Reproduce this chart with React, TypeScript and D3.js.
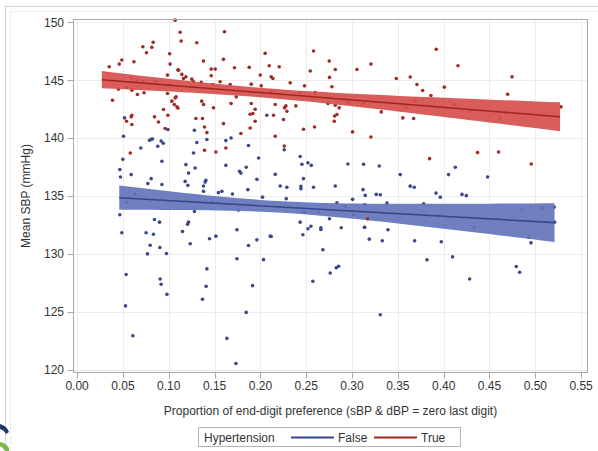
import React, { useEffect, useRef } from 'react';
import * as d3 from 'd3';

// tick values on both axes
const xTicks = [0, 0.05, 0.1, 0.15, 0.2, 0.25, 0.3, 0.35, 0.4, 0.45, 0.5, 0.55];
const yTicks = [120, 125, 130, 135, 140, 145, 150];
const groups = ['False', 'True'];

// Hypertension = False : [proportion, mean SBP]
const falsePoints: [number, number][] = [
  [0.0517, 141.75], [0.0506, 140.16], [0.0499, 138.17], [0.0466, 137.28], [0.0473, 136.64], [0.059, 136.85],
  [0.0695, 139.15], [0.079, 139.82], [0.0808, 139.9], [0.0822, 139.93], [0.088, 139.3], [0.0917, 139.76],
  [0.094, 139.56], [0.099, 140.74], [0.0925, 138.0], [0.0808, 136.5], [0.0772, 136.07], [0.0925, 136.0],
  [0.0633, 135.14], [0.054, 134.47], [0.0466, 133.38], [0.0488, 131.82], [0.0753, 131.82], [0.0833, 131.7],
  [0.0844, 132.97], [0.0899, 132.74], [0.0797, 130.74], [0.0768, 130.0], [0.0903, 130.55], [0.0975, 130.03],
  [0.0535, 128.21], [0.0906, 127.83], [0.0917, 127.37], [0.098, 126.5], [0.0528, 125.5], [0.0608, 122.92],
  [0.059, 145.2],
  [0.128, 140.68], [0.1416, 139.88], [0.1306, 139.62], [0.1623, 139.79], [0.168, 140.02], [0.187, 139.36],
  [0.207, 141.98], [0.127, 138.72], [0.1187, 137.71], [0.1216, 136.98], [0.1288, 137.42], [0.1179, 136.26],
  [0.1208, 135.92], [0.1405, 136.35], [0.1397, 136.2], [0.1379, 135.86], [0.1379, 135.4], [0.1623, 137.65],
  [0.1772, 137.13], [0.1787, 136.98], [0.1845, 137.48], [0.1962, 136.44], [0.198, 138.28], [0.1863, 135.55],
  [0.1542, 135.29], [0.158, 135.4], [0.1695, 135.17], [0.2023, 134.9], [0.147, 134.47], [0.176, 133.78],
  [0.128, 133.66], [0.1216, 132.74], [0.1205, 132.56], [0.115, 131.93], [0.1234, 130.87], [0.1445, 131.3],
  [0.1514, 131.53], [0.1744, 132.08], [0.187, 130.72], [0.1962, 131.21], [0.2107, 131.53], [0.1744, 129.57],
  [0.2034, 129.5], [0.1416, 128.7], [0.1408, 127.19], [0.1368, 126.07], [0.1914, 127.25], [0.1845, 124.94],
  [0.1634, 122.69], [0.1733, 120.52],
  [0.226, 139.0], [0.2434, 138.41], [0.2453, 137.74], [0.2519, 137.88], [0.2555, 137.65], [0.2162, 136.87],
  [0.2216, 135.86], [0.2289, 135.75], [0.2442, 135.83], [0.2442, 135.63], [0.247, 136.5], [0.258, 135.75],
  [0.2817, 135.86], [0.2955, 137.76], [0.3126, 137.74], [0.312, 135.55], [0.3144, 135.05], [0.3006, 134.71],
  [0.2282, 134.77], [0.2835, 134.42], [0.2926, 134.1], [0.2481, 133.6], [0.2634, 133.6], [0.2754, 133.03],
  [0.3016, 133.38], [0.2434, 132.74], [0.2551, 132.39], [0.2519, 132.17], [0.266, 132.25], [0.266, 132.1],
  [0.2464, 131.65], [0.2882, 132.25], [0.3136, 132.3], [0.2118, 131.5], [0.2682, 130.35], [0.2828, 128.79],
  [0.2853, 128.93], [0.2762, 128.35], [0.2573, 127.63],
  [0.3297, 137.59], [0.3526, 136.85], [0.4053, 136.85], [0.4127, 137.48], [0.3635, 135.85], [0.3679, 135.75],
  [0.3264, 135.14], [0.3308, 135.11], [0.3381, 134.39], [0.3781, 134.33], [0.3916, 135.25], [0.3963, 134.9],
  [0.42, 135.14], [0.4247, 135.03], [0.3137, 134.24], [0.3963, 133.32], [0.3137, 132.3], [0.3392, 132.08],
  [0.3188, 131.27], [0.333, 131.13], [0.3683, 131.13], [0.3974, 131.04], [0.3818, 129.48], [0.4097, 129.74],
  [0.4283, 127.83], [0.3308, 124.74],
  [0.4479, 136.64], [0.4334, 132.3], [0.4855, 133.81], [0.508, 133.95], [0.5207, 134.04], [0.521, 132.74],
  [0.4927, 131.44], [0.4953, 130.95], [0.4792, 128.9], [0.4829, 128.41],
];

// Hypertension = True
const truePoints: [number, number][] = [
  [0.035, 146.17], [0.0386, 143.28], [0.046, 146.4], [0.0488, 146.75], [0.062, 146.6], [0.0717, 147.9],
  [0.0757, 147.38], [0.0815, 147.85], [0.083, 148.28], [0.101, 147.3], [0.1015, 146.4], [0.0986, 145.45],
  [0.11, 145.9], [0.107, 150.2], [0.045, 144.24], [0.054, 144.38], [0.0597, 144.15], [0.0658, 143.78],
  [0.073, 143.92], [0.0597, 141.98], [0.059, 141.84], [0.054, 141.46], [0.0597, 141.18], [0.058, 138.72],
  [0.0844, 141.84], [0.0888, 141.4], [0.0943, 142.48], [0.099, 141.98], [0.096, 140.83], [0.1034, 143.2],
  [0.106, 142.9], [0.109, 142.7], [0.108, 143.57], [0.0986, 143.86], [0.086, 144.87], [0.065, 145.0],
  [0.072, 144.9], [0.1, 144.6],
  [0.1124, 149.15], [0.1135, 148.4], [0.1306, 148.25], [0.1608, 149.2], [0.1379, 146.66], [0.1106, 145.88],
  [0.1143, 145.51], [0.116, 145.16], [0.1187, 145.3], [0.1252, 145.1], [0.127, 144.87], [0.1354, 144.82],
  [0.1463, 145.97], [0.1507, 145.97], [0.1463, 145.39], [0.1597, 146.81], [0.1717, 146.08], [0.1878, 146.12],
  [0.2052, 147.33], [0.1998, 145.45], [0.2096, 146.26], [0.156, 144.87], [0.148, 144.64], [0.167, 144.64],
  [0.19, 144.67], [0.2009, 144.52], [0.1736, 143.57], [0.107, 143.48], [0.11, 142.6], [0.136, 143.2],
  [0.138, 142.91], [0.1488, 142.62], [0.168, 143.0], [0.19, 143.0], [0.1943, 142.5], [0.1918, 142.13],
  [0.1888, 142.07], [0.1296, 141.7], [0.1368, 141.7], [0.1943, 141.46], [0.1597, 141.26], [0.139, 140.97],
  [0.1416, 140.48], [0.1888, 140.88], [0.1787, 140.4], [0.139, 138.95], [0.1514, 138.8], [0.1623, 139.15],
  [0.2205, 146.17], [0.2118, 145.3], [0.2136, 145.16], [0.2325, 144.78], [0.2481, 144.52], [0.258, 147.53],
  [0.2544, 145.8], [0.2751, 146.66], [0.2817, 145.94], [0.2754, 145.25], [0.278, 144.44], [0.3053, 145.94],
  [0.2118, 144.06], [0.2598, 143.95], [0.243, 143.9], [0.2162, 142.91], [0.2263, 142.62], [0.2278, 142.79],
  [0.2289, 142.33], [0.2387, 142.79], [0.2143, 141.98], [0.2252, 141.61], [0.2737, 143.0], [0.2817, 142.85],
  [0.286, 142.62], [0.2835, 142.05], [0.2809, 141.92], [0.2806, 141.46], [0.2962, 143.08], [0.2471, 140.77],
  [0.2591, 140.97], [0.2162, 140.16], [0.3006, 140.54], [0.226, 139.32],
  [0.3206, 146.4], [0.3483, 145.16], [0.3635, 145.28], [0.3919, 147.68], [0.4156, 146.26], [0.3708, 144.64],
  [0.377, 144.12], [0.3861, 143.69], [0.4007, 144.41], [0.3126, 143.0], [0.3319, 142.27], [0.3555, 141.75],
  [0.3672, 141.7], [0.3588, 142.65], [0.369, 143.22], [0.4116, 142.91], [0.4283, 142.33], [0.3206, 140.1],
  [0.3846, 138.23], [0.317, 133.03],
  [0.4746, 145.3], [0.4698, 143.8], [0.461, 141.75], [0.4684, 142.22], [0.528, 142.7], [0.437, 138.75],
  [0.46, 138.8], [0.4956, 137.77],
];

// regression line: [xStart, xEnd, yStart, yEnd]
const falseFit = [0.046, 0.521, 134.85, 132.7];
const trueFit = [0.027, 0.527, 145.05, 141.85];
// confidence band: [x of narrowest point, min half-width, widening]
const falseBand = [0.22, 0.5, 5.3];
const trueBand = [0.2, 0.41, 3.6];

const colors = {
  False: { band: '#6474bb', line: '#33468e', dot: '#3a4889' },
  True: { band: '#d64f4c', line: '#a1261f', dot: '#9e2b24' },
};

const App = () => {
  const svgRef = useRef<SVGSVGElement>(null);

  useEffect(() => {
    const width = 598;
    const height = 451;
    const left = 73, right = 588, top = 19, bottom = 373;
    const font = '"Liberation Sans", Arial, sans-serif';

    const svg = d3.select(svgRef.current);
    svg.selectAll('*').remove();

    const x = d3.scaleLinear().domain([-0.0045, 0.5575]).range([left, right]);
    const y = d3.scaleLinear().domain([119.7, 150.3]).range([bottom, top]);

    svg.append('rect').attr('width', width).attr('height', height).attr('fill', '#fff');
    // outer frames of the graph image
    svg.append('rect').attr('x', 5.5).attr('y', 6.5).attr('width', 600).attr('height', 460)
      .attr('fill', 'none').attr('stroke', '#d2d2d2');
    svg.append('rect').attr('x', 10.5).attr('y', 11.5).attr('width', 600).attr('height', 460)
      .attr('fill', 'none').attr('stroke', '#eeeeee');

    // grid
    const grid = svg.append('g').attr('stroke', '#ececec').attr('stroke-width', 1);
    grid.selectAll('.gx').data(xTicks).enter().append('line')
      .attr('x1', d => Math.round(x(d)) + 0.5).attr('x2', d => Math.round(x(d)) + 0.5)
      .attr('y1', top).attr('y2', bottom);
    grid.selectAll('.gy').data(yTicks).enter().append('line')
      .attr('y1', d => Math.round(y(d)) + 0.5).attr('y2', d => Math.round(y(d)) + 0.5)
      .attr('x1', left).attr('x2', right);

    const plot = svg.append('g');

    const drawGroup = (pts: [number, number][], fit: number[], band: number[], c: { band: string; line: string; dot: string }) => {
      const lineY = (v: number) => fit[2] + ((fit[3] - fit[2]) * (v - fit[0])) / (fit[1] - fit[0]);
      const half = (v: number) => Math.sqrt(band[1] * band[1] + band[2] * band[2] * (v - band[0]) * (v - band[0]));
      const xs = d3.range(0, 41).map(i => fit[0] + ((fit[1] - fit[0]) * i) / 40);

      plot.append('g').selectAll('circle').data(pts).enter().append('circle')
        .attr('cx', d => x(d[0])).attr('cy', d => y(d[1])).attr('r', 1.8).attr('fill', c.dot);

      const area = d3.area<number>()
        .x(d => x(d))
        .y0(d => y(lineY(d) - half(d)))
        .y1(d => y(lineY(d) + half(d)));
      plot.append('path').datum(xs).attr('d', area).attr('fill', c.band).attr('fill-opacity', 0.92);

      const line = d3.line<number>().x(d => x(d)).y(d => y(lineY(d)));
      plot.append('path').datum([fit[0], fit[1]]).attr('d', line)
        .attr('fill', 'none').attr('stroke', c.line).attr('stroke-width', 1.6);
    };

    drawGroup(falsePoints, falseFit, falseBand, colors.False);
    drawGroup(truePoints, trueFit, trueBand, colors.True);

    // frame
    svg.append('rect').attr('x', left + 0.5).attr('y', top + 0.5)
      .attr('width', right - left - 1).attr('height', bottom - top - 1)
      .attr('fill', 'none').attr('stroke', '#a8a8a8');

    // y axis
    const ya = svg.append('g');
    ya.selectAll('line').data(yTicks).enter().append('line')
      .attr('x1', left - 5.5).attr('x2', left)
      .attr('y1', d => Math.round(y(d)) + 0.5).attr('y2', d => Math.round(y(d)) + 0.5)
      .attr('stroke', '#a8a8a8');
    ya.selectAll('text').data(yTicks).enter().append('text')
      .attr('x', left - 9).attr('y', d => y(d)).attr('dy', '0.35em')
      .attr('text-anchor', 'end').attr('font-family', font).attr('font-size', 12).attr('fill', '#333')
      .text(d => d);

    // x axis
    const xa = svg.append('g');
    xa.selectAll('line').data(xTicks).enter().append('line')
      .attr('x1', d => Math.round(x(d)) + 0.5).attr('x2', d => Math.round(x(d)) + 0.5)
      .attr('y1', bottom).attr('y2', bottom + 5.5)
      .attr('stroke', '#a8a8a8');
    xa.selectAll('text').data(xTicks).enter().append('text')
      .attr('x', d => x(d)).attr('y', bottom + 17)
      .attr('text-anchor', 'middle').attr('font-family', font).attr('font-size', 12).attr('fill', '#333')
      .text(d => d3.format('.2f')(d));

    svg.append('text')
      .attr('x', (left + right) / 2).attr('y', bottom + 42)
      .attr('text-anchor', 'middle').attr('font-family', font).attr('font-size', 12).attr('fill', '#333')
      .text('Proportion of end-digit preference (sBP & dBP = zero last digit)');

    svg.append('text')
      .attr('transform', `translate(30,${(top + bottom) / 2}) rotate(-90)`)
      .attr('text-anchor', 'middle').attr('font-family', font).attr('font-size', 12).attr('fill', '#333')
      .text('Mean SBP (mmHg)');

    // legend
    const lg = svg.append('g').attr('font-family', font).attr('font-size', 12).attr('fill', '#333');
    lg.append('rect').attr('x', 198.5).attr('y', 427.5).attr('width', 262).attr('height', 19)
      .attr('fill', '#fff').attr('stroke', '#b4b4b4');
    lg.append('text').attr('x', 204).attr('y', 441.5).text('Hypertension');
    const legendX = [291, 374];
    groups.forEach((g, i) => {
      const c = colors[g as 'False' | 'True'];
      lg.append('line').attr('x1', legendX[i]).attr('x2', legendX[i] + 43)
        .attr('y1', 437.5).attr('y2', 437.5).attr('stroke', c.line).attr('stroke-width', 2);
      lg.append('text').attr('x', legendX[i] + 47).attr('y', 441.5).text(g);
    });

    // logo fragment at the lower-left corner
    svg.append('path').attr('d', 'M0,424 Q7,426 9,432 L6,434 Q4,430 0,429 Z').attr('fill', '#1c3a6b');
    svg.append('path').attr('d', 'M0,442 Q6,443 9,448 L9,451 L5,451 Q3,447 0,446 Z').attr('fill', '#7ab648');
  }, []);

  return (
    <svg
      ref={svgRef}
      width={598}
      height={451}
      style={{ position: 'absolute', left: 0, top: 0, display: 'block' }}
    />
  );
};

export default App;
